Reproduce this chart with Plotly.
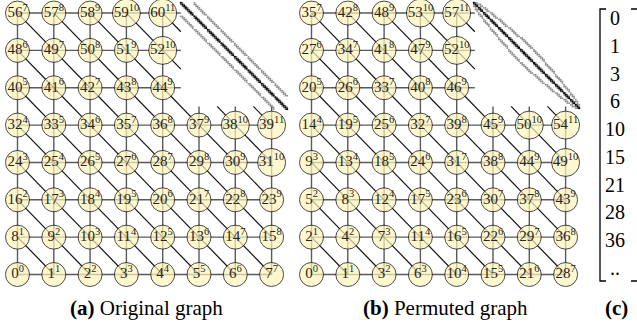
import plotly.graph_objects as go

# ---------------------------------------------------------------------------
# Data: an 8x8 triangulated grid graph (row 0 at the bottom).
# ORIG_LABELS  - natural row-major numbering
# PERM_LABELS  - numbering after the level-by-level (anti-diagonal) permutation
# LEVELS       - level of each node (shown as superscript)
# ---------------------------------------------------------------------------
ORIG_LABELS = [
    [0, 1, 2, 3, 4, 5, 6, 7],
    [8, 9, 10, 11, 12, 13, 14, 15],
    [16, 17, 18, 19, 20, 21, 22, 23],
    [24, 25, 26, 27, 28, 29, 30, 31],
    [32, 33, 34, 35, 36, 37, 38, 39],
    [40, 41, 42, 43, 44, 45, 46, 47],
    [48, 49, 50, 51, 52, 53, 54, 55],
    [56, 57, 58, 59, 60, 61, 62, 63],
]
PERM_LABELS = [
    [0, 1, 3, 6, 10, 15, 21, 28],
    [2, 4, 7, 11, 16, 22, 29, 36],
    [5, 8, 12, 17, 23, 30, 37, 43],
    [9, 13, 18, 24, 31, 38, 44, 49],
    [14, 19, 25, 32, 39, 45, 50, 54],
    [20, 26, 33, 40, 46, 51, 55, 58],
    [27, 34, 41, 47, 52, 56, 59, 61],
    [35, 42, 48, 53, 57, 60, 62, 63],
]
LEVELS = [
    [0, 1, 2, 3, 4, 5, 6, 7],
    [1, 2, 3, 4, 5, 6, 7, 8],
    [2, 3, 4, 5, 6, 7, 8, 9],
    [3, 4, 5, 6, 7, 8, 9, 10],
    [4, 5, 6, 7, 8, 9, 10, 11],
    [5, 6, 7, 8, 9, 10, 11, 12],
    [6, 7, 8, 9, 10, 11, 12, 13],
    [7, 8, 9, 10, 11, 12, 13, 14],
]
# first entries of the permutation vector
PERM_VECTOR = [0, 1, 3, 6, 10, 15, 21, 28, 36]

N = 8

# ---------------------------------------------------------------------------
# Layout (pixel coordinates of the drawing)
# ---------------------------------------------------------------------------
W, H = 637, 326
ROW_Y0, ROW_DY = 274.5, 37.35
COL_DX = 36.3
PANEL_X0 = {"a": 17.5, "b": 311.5}
SPY_BOX = {"a": (180.0, 2.0, 108.0), "b": (473.0, 2.0, 107.0)}
STUB = 0.5

NODE_FILL = "#FFF5B9"
HV_COLOR = "#5a5a5a"
DIAG_COLOR = "#111111"
SERIF = "Liberation Serif, DejaVu Serif, serif"


def visible(r, c):
    # the upper-right corner of the grid is cut away for the sparsity plot
    return r <= 4 or c <= 4


def pos(panel, r, c):
    return PANEL_X0[panel] + COL_DX * c, ROW_Y0 - ROW_DY * r


H_EDGES = [((r, c), (r, c + 1)) for r in range(N) for c in range(N - 1)]
V_EDGES = [((r, c), (r + 1, c)) for r in range(N - 1) for c in range(N)]
D_EDGES = [((r, c), (r - 1, c + 1)) for r in range(1, N) for c in range(N - 1)]


def segments(panel, edges):
    xs, ys = [], []
    for (a, b) in edges:
        va, vb = visible(*a), visible(*b)
        if not (va or vb):
            continue
        if not va:
            a, b = b, a
        x1, y1 = pos(panel, *a)
        x2, y2 = pos(panel, *b)
        if not (va and vb):
            x2 = x1 + (x2 - x1) * STUB
            y2 = y1 + (y2 - y1) * STUB
        xs += [x1, x2, None]
        ys += [y1, y2, None]
    return xs, ys


def nonzeros(labels):
    """Nonzero pattern of the adjacency matrix split into diagonal,
    next-to-diagonal and remaining entries."""
    diag = {(i, i) for i in range(N * N)}
    near, far = set(), set()
    for (a, b) in H_EDGES + V_EDGES + D_EDGES:
        i = labels[a[0]][a[1]]
        j = labels[b[0]][b[1]]
        target = near if abs(i - j) <= 1 else far
        target.add((i, j))
        target.add((j, i))
    return diag, near, far


fig = go.Figure()

for panel, labels in (("a", ORIG_LABELS), ("b", PERM_LABELS)):
    # sparsity pattern of the adjacency matrix, one dot per nonzero
    sx, sy, side = SPY_BOX[panel]
    cell = side / (N * N)
    diag, near, far = nonzeros(labels)
    for entries, color, msize in ((far, "#8f8f8f", 1.9), (near, "#6a6a6a", 1.7),
                                  (diag, "#000000", 2.3)):
        ent = sorted(entries)
        fig.add_trace(go.Scatter(
            x=[sx + cell * (j + 0.5) for i, j in ent],
            y=[sy + cell * (i + 0.5) for i, j in ent],
            mode="markers", hoverinfo="skip",
            marker=dict(size=msize, color=color, line=dict(width=0)),
        ))

    xs, ys = segments(panel, H_EDGES + V_EDGES)
    fig.add_trace(go.Scatter(x=xs, y=ys, mode="lines", hoverinfo="skip",
                             line=dict(color=HV_COLOR, width=1.4)))
    xs, ys = segments(panel, D_EDGES)
    fig.add_trace(go.Scatter(x=xs, y=ys, mode="lines", hoverinfo="skip",
                             line=dict(color=DIAG_COLOR, width=1.2)))

    nx, ny, txt, size = [], [], [], []
    for r in range(N):
        for c in range(N):
            if not visible(r, c):
                continue
            x, y = pos(panel, r, c)
            nx.append(x)
            ny.append(y)
            lv = LEVELS[r][c]
            txt.append(f"{labels[r][c]}<sup>{lv}</sup>")
            size.append(28 if lv >= 10 else 24)
    fig.add_trace(go.Scatter(
        x=nx, y=ny, mode="markers+text", text=txt, textposition="middle center",
        textfont=dict(family=SERIF, size=15, color="#262626"),
        marker=dict(size=size, color=NODE_FILL, line=dict(color="black", width=1)),
        hoverinfo="skip",
    ))

# permutation vector (c)
VEC_X, VEC_Y0, VEC_DY = 615.0, 20.0, 27.75
fig.add_trace(go.Scatter(
    x=[VEC_X] * (len(PERM_VECTOR) + 1),
    y=[VEC_Y0 + VEC_DY * i for i in range(len(PERM_VECTOR) + 1)],
    mode="text", text=[str(v) for v in PERM_VECTOR] + [".."],
    textposition="middle center",
    textfont=dict(family=SERIF, size=20, color="black"), hoverinfo="skip",
))
fig.add_shape(type="path", path="M 606 9 L 600 9 L 600 281 L 606 281",
              line=dict(color="black", width=1.3))
fig.add_shape(type="path", path="M 631 9 L 639 9 L 639 281 L 631 281",
              line=dict(color="black", width=1.3))

captions = [(146, "<b>(a)</b> Original graph"), (445, "<b>(b)</b> Permuted graph"),
            (616, "<b>(c)</b>")]
for x, t in captions:
    fig.add_annotation(x=x, y=308, xref="x", yref="y", text=t, showarrow=False,
                       xanchor="center", yanchor="middle",
                       font=dict(family=SERIF, size=21, color="black"))

fig.update_layout(
    width=W, height=H, margin=dict(l=0, r=0, t=0, b=0),
    paper_bgcolor="white", plot_bgcolor="white", showlegend=False,
    xaxis=dict(range=[0, W], visible=False, domain=[0, 1]),
    yaxis=dict(range=[H, 0], visible=False, domain=[0, 1]),
)

fig.write_html("out.html")
